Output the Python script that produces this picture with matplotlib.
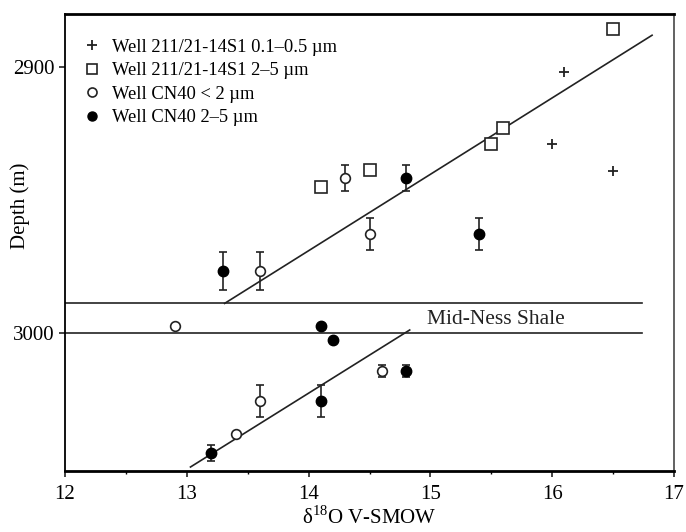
import numpy as np
import matplotlib
matplotlib.use("Agg")
import matplotlib.pyplot as plt

plt.rcParams['font.family'] = ['Liberation Serif', 'DejaVu Serif']
plt.rcParams['mathtext.fontset'] = 'custom'
plt.rcParams['mathtext.rm'] = 'Liberation Serif'

# ---- data ----
plus_x = [16.1, 16.0, 16.5]
plus_depth = [2902, 2929, 2939]

square_x = [16.5, 15.6, 15.5, 14.5, 14.1]
square_depth = [2885.5, 2923, 2929, 2938.7, 2945.3]

open_x = [14.3, 14.5, 13.6, 12.9, 14.6, 13.6, 13.4]
open_depth = [2941.6, 2963, 2976.7, 2997.5, 3014.5, 3025.8, 3038.3]
open_err = [4.9, 6.0, 7.2, 0.0, 2.3, 6.0, 0.0]

filled_x = [14.8, 15.4, 13.3, 14.1, 14.2, 14.8, 14.1, 13.2]
filled_depth = [2941.6, 2963, 2976.7, 2997.4, 3002.8, 3014.5, 3025.8, 3045.5]
filled_err = [4.9, 6.0, 7.2, 0.0, 0.0, 2.3, 6.0, 3.0]

fit_upper_x = [13.31, 16.82]
fit_upper_depth = [2989, 2888]
fit_lower_x = [13.03, 14.83]
fit_lower_depth = [3050.6, 2999]

shale_top = 2989
shale_bottom = 3000
shale_x_end = 16.74

labels = ["Well 211/21-14S1 0.1\u20130.5 \u00b5m",
          "Well 211/21-14S1 2\u20135 \u00b5m",
          "Well CN40 < 2 \u00b5m",
          "Well CN40 2\u20135 \u00b5m"]

fig = plt.figure(figsize=(6.86, 5.32), dpi=100)
ax = fig.add_axes([0.0948, 0.1152, 0.8877, 0.8585])

# shale band lines
ax.plot([12, shale_x_end], [shale_top, shale_top], color='#222222', lw=1.2, zorder=1)
ax.plot([12, shale_x_end], [shale_bottom, shale_bottom], color='#222222', lw=1.2, zorder=1)
ax.text(14.97, 2996.8, "Mid-Ness Shale", fontsize=15.5, ha='left', va='baseline', color='#222222')

# fit lines
ax.plot(fit_upper_x, fit_upper_depth, color='#222222', lw=1.2, zorder=1)
ax.plot(fit_lower_x, fit_lower_depth, color='#222222', lw=1.2, zorder=1)

# error bars
ox, od, oe = map(np.array, (open_x, open_depth, open_err))
fx, fd, fe = map(np.array, (filled_x, filled_depth, filled_err))
m = oe > 0
ax.errorbar(ox[m], od[m], yerr=oe[m], fmt='none', ecolor='#222222', elinewidth=1.2,
            capsize=3, capthick=1.2, zorder=2)
m = fe > 0
ax.errorbar(fx[m], fd[m], yerr=fe[m], fmt='none', ecolor='#222222', elinewidth=1.2,
            capsize=3, capthick=1.2, zorder=2)

# markers
h1, = ax.plot(plus_x, plus_depth, linestyle='none', marker='+', ms=7, mew=1.3,
              color='#222222', zorder=3)
h2, = ax.plot(square_x, square_depth, linestyle='none', marker='s', ms=8.5, mew=1.2,
              mfc='white', mec='#222222', zorder=3)
h3, = ax.plot(open_x, open_depth, linestyle='none', marker='o', ms=7, mew=1.2,
              mfc='white', mec='#222222', zorder=3)
h4, = ax.plot(filled_x, filled_depth, linestyle='none', marker='o', ms=7.5, mew=1.0,
              mfc='black', mec='black', zorder=3)

ax.set_xlim(12, 17)
ax.set_ylim(3052, 2880)
ax.set_xticks([12, 13, 14, 15, 16, 17])
ax.set_xticks(np.arange(12.5, 17, 1.0), minor=True)
ax.set_yticks([2900, 3000])
ax.tick_params(axis='both', which='major', labelsize=15, direction='out', length=4,
               width=1.2, color='#222222')
ax.tick_params(axis='x', which='minor', direction='out', length=2.5, width=1.0)
ax.tick_params(axis='x', pad=6)

for side in ['top', 'bottom']:
    ax.spines[side].set_linewidth(2.0)
for side in ['left', 'right']:
    ax.spines[side].set_linewidth(1.3)
ax.spines['right'].set_color('#555555')

ax.set_xlabel("\u03b4$^{18}$O V-SMOW", fontsize=15)
ax.xaxis.set_label_coords(0.50, -0.078)
ax.set_ylabel("Depth (m)", fontsize=15)
ax.yaxis.set_label_coords(-0.057, 0.58)

leg = ax.legend([h1, h2, h3, h4], labels, loc='upper left', frameon=False,
                fontsize=13.3, handlelength=1.0, handletextpad=0.6,
                labelspacing=0.35, borderaxespad=0.0,
                bbox_to_anchor=(0.017, 0.962))
for h in leg.legend_handles:
    h.set_markersize(6.5)

fig.savefig("out.png", dpi=100)
